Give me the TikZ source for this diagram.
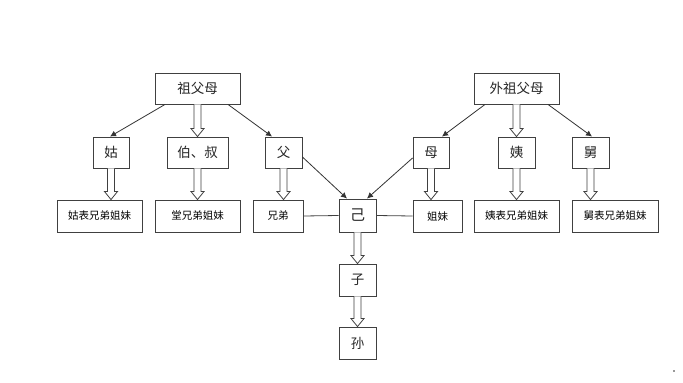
\documentclass[tikz,border=0pt]{standalone}
\usepackage{fontspec}
\newfontfamily\cjk{Noto Sans CJK SC}
\usetikzlibrary{arrows.meta,calc}
\begin{document}
\begin{tikzpicture}[x=1pt,y=-1pt,
  box/.style={draw=black!75,line width=0.9pt,fill=white,inner sep=0pt,minimum height=31pt,text=black!85,font=\cjk\fontsize{13.5}{13.5}\selectfont},
  small/.style={box,text=black,font=\cjk\fontsize{10.5}{10.5}\selectfont},
  thin/.style={draw=black!80,line width=0.8pt,-{Latex[length=6pt,width=6pt]}},
  plain/.style={draw=black!75,line width=0.8pt},
  blockarr/.style={draw=black!75,line width=0.8pt,fill=white,line join=miter}]
\useasboundingbox (0,0) rectangle (683,383);
\fill[white] (0,0) rectangle (683,383);
% top level
\node[box,minimum width=85pt] (gp) at (197.5,88.5) {祖父母};
\node[box,minimum width=85pt] (wgp) at (516.5,88.5) {外祖父母};
% middle level
\node[box,minimum width=36pt] (gu) at (111,152.5) {姑};
\node[box,minimum width=61pt] (bs) at (197.5,152.5) {伯、叔};
\node[box,minimum width=37pt] (fu) at (283.5,152.5) {父};
\node[box,minimum width=36pt] (mu) at (431,152.5) {母};
\node[box,minimum width=37pt] (yi) at (516.5,152.5) {姨};
\node[box,minimum width=37pt] (jiu) at (590.5,152.5) {舅};
% third level
\node[small,minimum width=85pt,minimum height=32pt] (guc) at (99.5,216) {姑表兄弟姐妹};
\node[small,minimum width=85pt,minimum height=32pt] (tang) at (197.5,216) {堂兄弟姐妹};
\node[small,minimum width=50pt,minimum height=32pt] (xd) at (278,216) {兄弟};
\node[box,minimum width=37pt,minimum height=33pt,font=\cjk\fontsize{15}{15}\selectfont] (ji) at (357.5,215.5) {己};
\node[small,minimum width=49pt,minimum height=32pt] (jm) at (437.5,216) {姐妹};
\node[small,minimum width=85pt,minimum height=32pt] (yic) at (516.5,216) {姨表兄弟姐妹};
\node[small,minimum width=86pt,minimum height=32pt] (jiuc) at (615,216) {舅表兄弟姐妹};
% bottom
\node[box,minimum width=37pt,minimum height=32pt] (zi) at (357.5,280) {子};
\node[box,minimum width=37pt,minimum height=32pt] (sun) at (357.5,343) {孙};
% thin arrows
\draw[thin] ([xshift=-32.5pt]gp.south) -- ([xshift=-1pt]gu.north);
\draw[thin] ([xshift=30.5pt]gp.south) -- ([xshift=-11.5pt]fu.north);
\draw[thin] ([yshift=-4.5pt]fu.east) -- ([xshift=-10.5pt]ji.north);
\draw[thin] ([yshift=-5.5pt]mu.west) -- ([xshift=9.5pt]ji.north);
\draw[thin] ([xshift=-31.5pt]wgp.south) -- ([xshift=11pt]mu.north);
\draw[thin] ([xshift=31.5pt]wgp.south) -- ([xshift=1.5pt]jiu.north);
% plain lines
\draw[plain] (xd.east) -- (ji.west);
\draw[plain] (ji.east) -- (jm.west);
% block arrows
\foreach \a/\b in {gp/bs,wgp/yi,gu/guc,bs/tang,fu/xd,mu/jm,yi/yic,jiu/jiuc,ji/zi,zi/sun}{
  \draw[blockarr] let \p1=(\a.south), \p2=(\b.north) in
    ({\x1-3.5pt},{\y1}) -- ({\x1-3.5pt},{\y2+8pt}) -- ({\x1-6.5pt},{\y2+8pt})
    -- ({\x1},{\y2}) -- ({\x1+6.5pt},{\y2+8pt}) -- ({\x1+3.5pt},{\y2+8pt})
    -- ({\x1+3.5pt},{\y1});
}
\fill[black!40] (673,370) rectangle (675,372);
\end{tikzpicture}
\end{document}
